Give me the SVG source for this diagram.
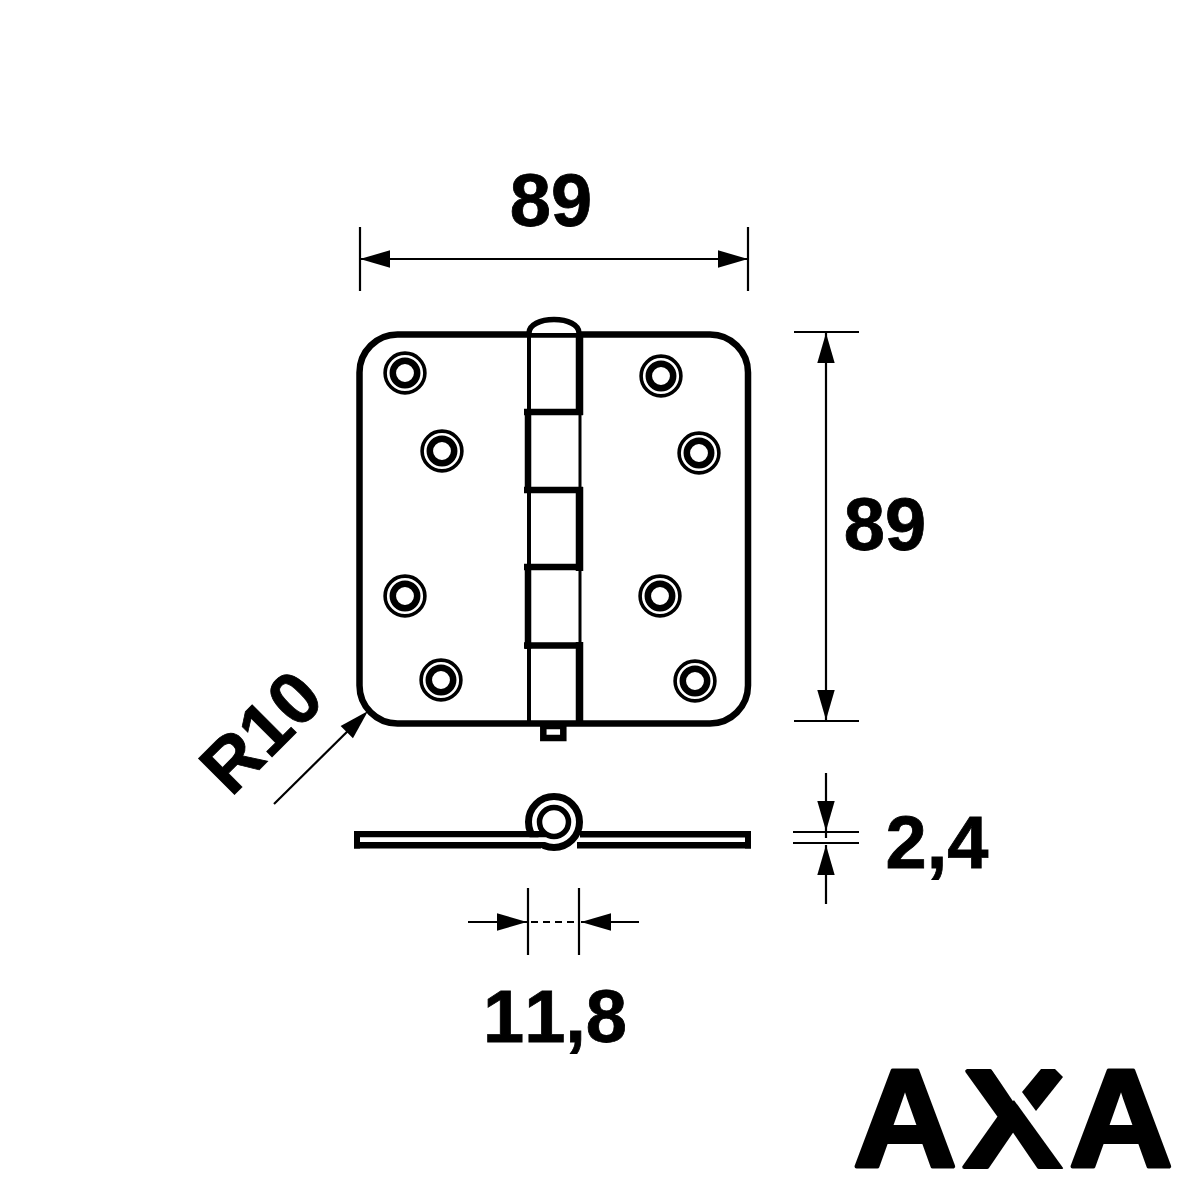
<svg xmlns="http://www.w3.org/2000/svg" width="1200" height="1200" viewBox="0 0 1200 1200">
<style>
.o{fill:none;stroke:#000;stroke-width:6.5}
.d{fill:none;stroke:#000;stroke-width:2.2}
.k{fill:#000}
.t{font-family:"Liberation Sans",Arial,sans-serif;font-weight:700;font-size:74px;fill:#000;stroke:#000;stroke-width:.8;font-kerning:none}
.l{font-family:"Liberation Sans",Arial,sans-serif;font-weight:700;font-size:140px;fill:#000;stroke:#000;stroke-width:4;stroke-linejoin:round}
.s1{fill:none;stroke:#000;stroke-width:3.6}
.s2{fill:#fff;stroke:#000;stroke-width:6.5}
.thin{stroke:#000;stroke-width:4;fill:none}
.thick{stroke:#000;stroke-width:7.5;fill:none}
.bar{stroke:#000;stroke-width:6.5;fill:none}
</style>
<defs>
<g id="screw"><circle class="s1" r="19.9"/><circle class="s2" r="12.2"/></g>
<polygon id="ah" class="k" points="0,0 -30,-8.7 -30,8.7"/>
</defs>
<rect width="1200" height="1200" fill="#fff"/>
<g id="hinge-plate">
<rect class="o" x="359.5" y="334.5" width="388.5" height="389" rx="38" ry="38"/>
</g>
<g id="hinge-pin">
<path d="M529,333C529,325 540,319.500 554,319.500C568,319.500 579,325 579,333" fill="#fff" stroke="#000" stroke-width="5.500"/>
<path class="thin" d="M529,336V410M529,493V564M529,649V724"/>
<path class="thick" d="M579.500,336V415M579.500,487V571M579.500,642V724"/>
<path d="M580,415V487M580,571V642" stroke="#000" stroke-width="3" fill="none"/>
<path class="bar" d="M528,409V493M528,564V649M524,412H583M524,490H583M524,567H583M524,645.500H583"/>
<rect class="o" x="543.300" y="726" width="20" height="12"/>
</g>
<g id="screws">
<use href="#screw" x="405" y="373"/>
<use href="#screw" x="442" y="451"/>
<use href="#screw" x="661" y="376"/>
<use href="#screw" x="699" y="453"/>
<use href="#screw" x="405" y="596"/>
<use href="#screw" x="660" y="596"/>
<use href="#screw" x="441" y="680"/>
<use href="#screw" x="695" y="681"/>
</g>
<g id="side-view">
<circle cx="554" cy="822" r="25.500" fill="#fff" stroke="#000" stroke-width="7"/>
<rect class="k" x="354" y="831" width="192" height="6.500"/>
<rect class="k" x="354" y="842" width="187" height="6.500"/>
<rect class="k" x="354" y="831" width="6" height="17.500"/>
<rect x="360" y="837.500" width="187" height="4.500" fill="#fff"/>
<rect class="k" x="580" y="831" width="171" height="6.500"/>
<rect class="k" x="577" y="842" width="174" height="6.500"/>
<rect class="k" x="745" y="831" width="6" height="17.500"/>
<circle cx="554" cy="822" r="14.500" fill="#fff" stroke="#000" stroke-width="5.500"/>
</g>
<g id="connectors">
<path class="d" d="M360,227V291M748,227V291M360,259H748"/>
<use href="#ah" transform="translate(360,259) rotate(180)"/>
<use href="#ah" transform="translate(748,259)"/>
<path class="d" d="M794,332H859M794,721H859M826,332V721"/>
<use href="#ah" transform="translate(826,333) rotate(-90)"/>
<use href="#ah" transform="translate(826,720) rotate(90)"/>
<path class="d" d="M826,773V838M793,832H859M793,843H859M826,845V904"/>
<use href="#ah" transform="translate(826,831) rotate(90)"/>
<use href="#ah" transform="translate(826,845) rotate(-90)"/>
<path class="d" d="M528,888V955M579,888V955M468,922H527M581,922H639"/>
<path class="d" d="M531,922H578" stroke-dasharray="7,5"/>
<use href="#ah" transform="translate(527,922)"/>
<use href="#ah" transform="translate(581,922) rotate(180)"/>
<path class="d" d="M274,804L360,719"/>
<use href="#ah" transform="translate(368,711) rotate(-45)"/>
</g>
<g id="labels">
<text class="t" x="551" y="226" text-anchor="middle">89</text>
<text class="t" x="885" y="550" text-anchor="middle">89</text>
<text class="t" x="937" y="868" text-anchor="middle">2,4</text>
<text class="t" x="555" y="1042" text-anchor="middle">11,8</text>
<text class="t" text-anchor="middle" transform="translate(279,750) rotate(-45)">R10</text>
</g>
<g id="logo">
<text class="l" x="853" y="1167" textLength="104" lengthAdjust="spacingAndGlyphs">A</text>
<text class="l" x="963" y="1167" textLength="100" lengthAdjust="spacingAndGlyphs">X</text>
<polygon points="985,1060 1075,1060 1075,1180 1066,1172" fill="#fff"/>
<polygon class="k" points="1022,1092 1041,1069 1055,1069 1063,1077 1036,1111"/>
<text class="l" x="1069" y="1167" textLength="104" lengthAdjust="spacingAndGlyphs">A</text>
</g>
</svg>
